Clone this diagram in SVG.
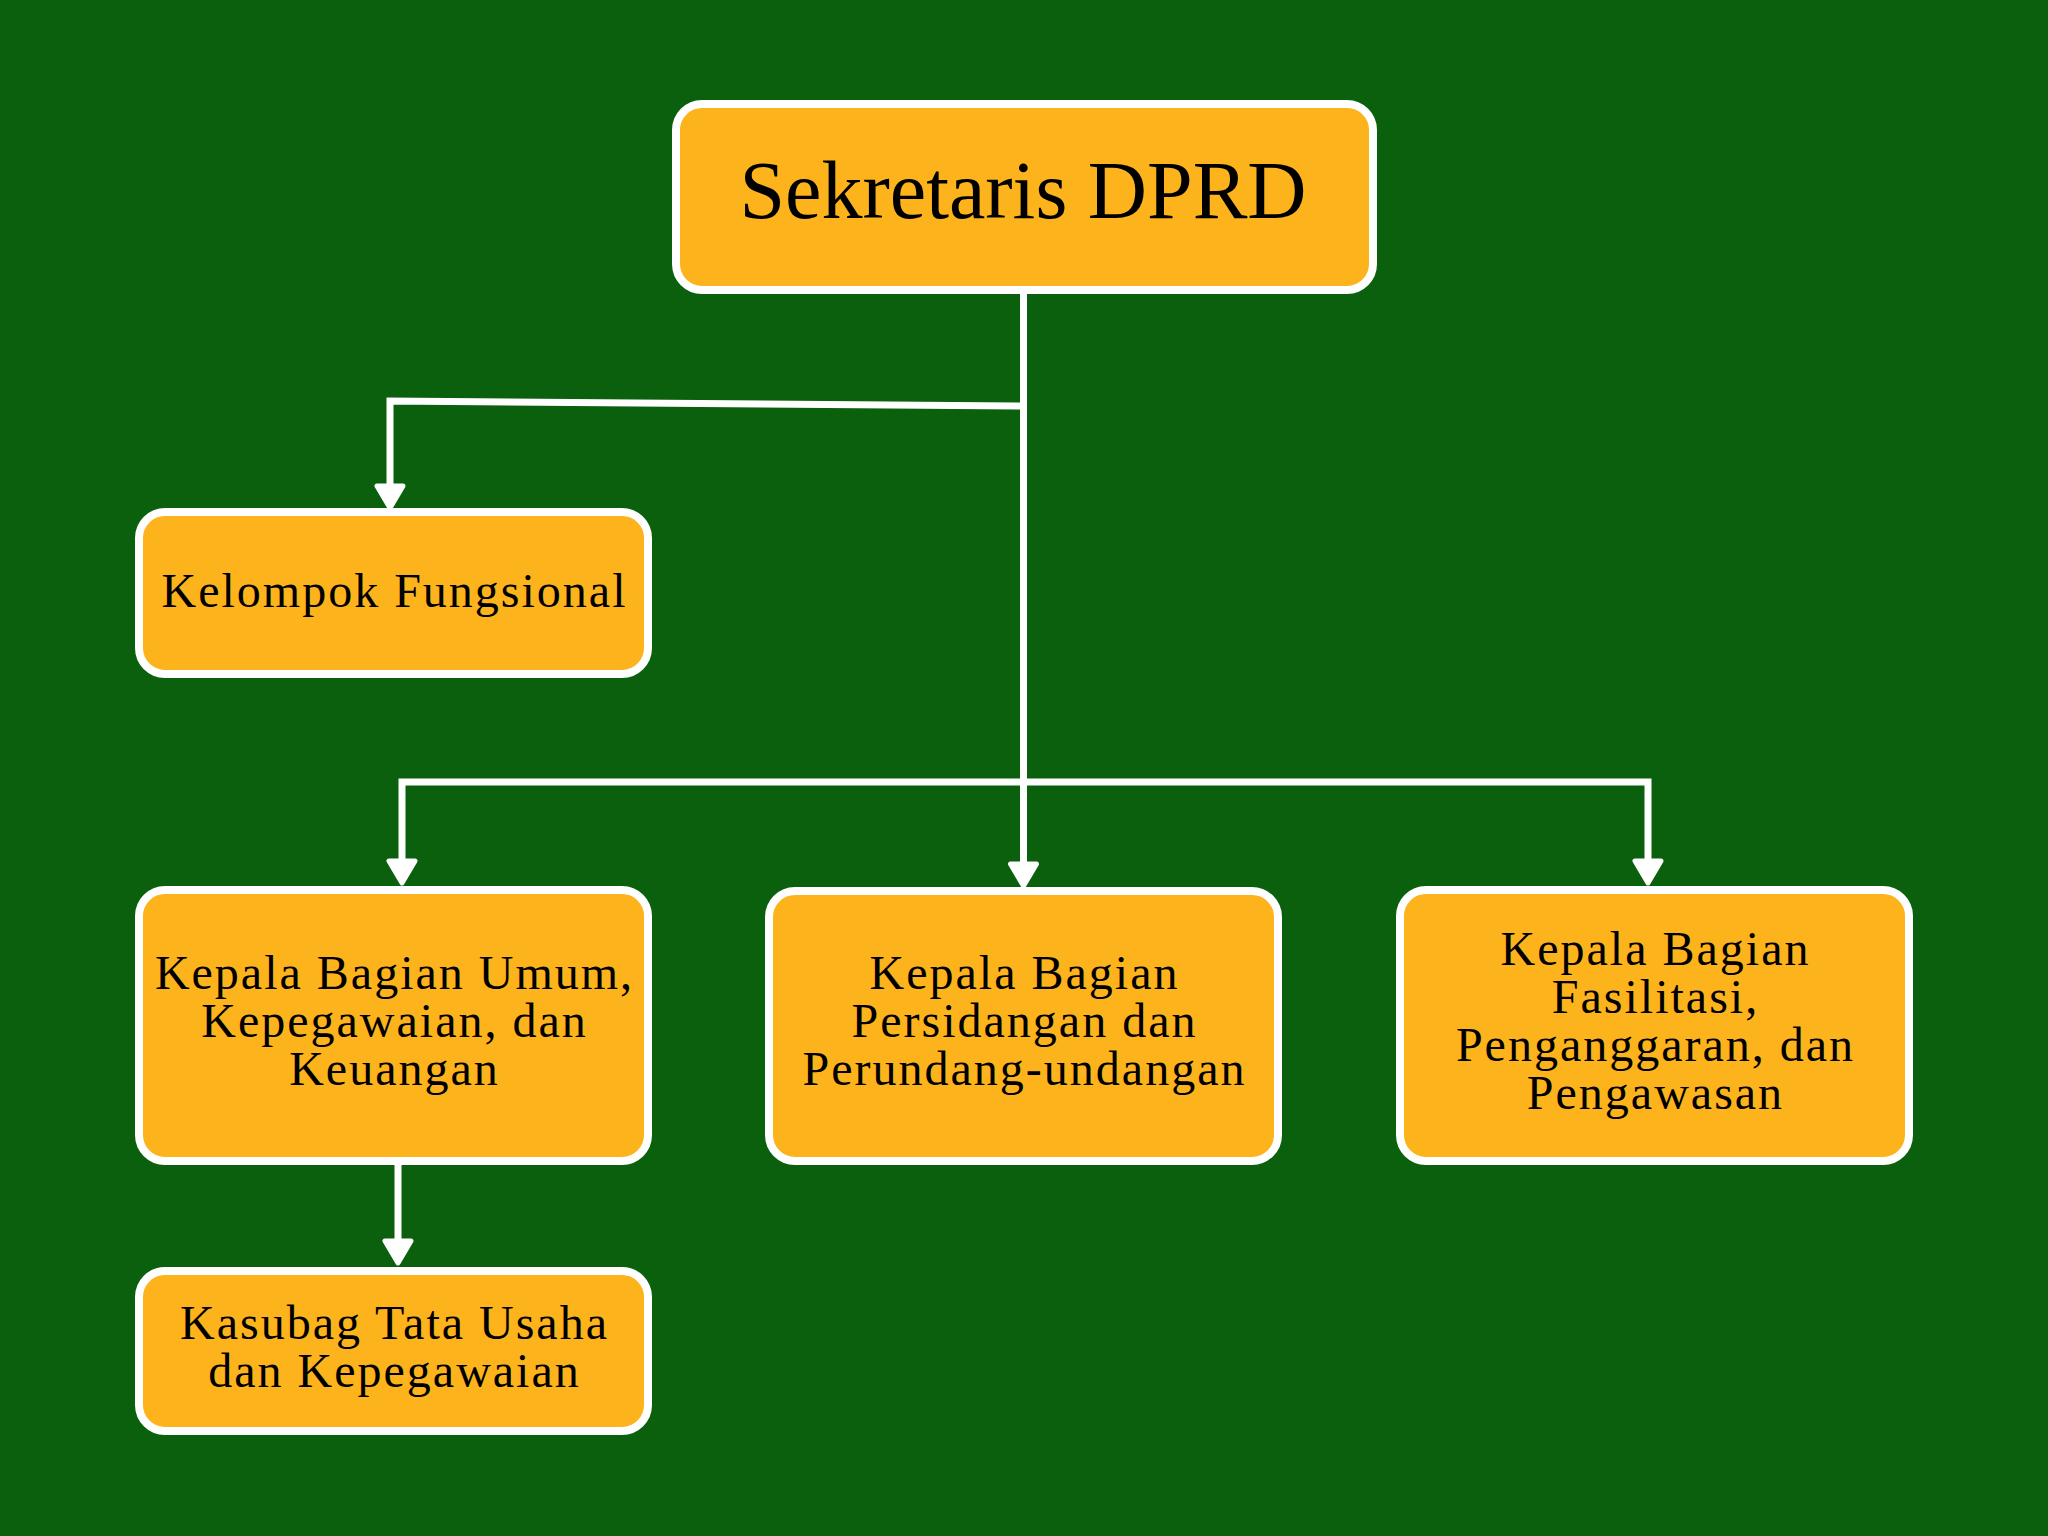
<svg xmlns="http://www.w3.org/2000/svg" width="2048" height="1536" viewBox="0 0 2048 1536">
<style>
.box{fill:#FDB31B;stroke:#FFFFFF;stroke-width:8}
.lbl{font-family:"Liberation Serif","Times New Roman",serif;font-size:48px;letter-spacing:2px;fill:#000000;text-anchor:middle}
.title{font-size:82px;letter-spacing:0}
.conn{fill:none;stroke:#FFFFFF;stroke-width:7;stroke-linejoin:miter}
</style>
<defs>
<marker id="arr" viewBox="-5 -20 35 40" refX="12" refY="0" markerWidth="35" markerHeight="40" markerUnits="userSpaceOnUse" orient="auto">
<path d="M0,-13 L22,0 L0,13 Z" fill="#FFFFFF" stroke="#FFFFFF" stroke-width="5" stroke-linejoin="round"/>
</marker>
</defs>
<rect x="0" y="0" width="2048" height="1536" fill="#0A600C"/>
<g id="connectors">
<path class="conn" d="M1023.5,406 L390,401 L390,498" marker-end="url(#arr)"/>
<path class="conn" d="M1023.5,294 L1023.5,876" marker-end="url(#arr)"/>
<path class="conn" d="M1023.5,782 L402,782 L402,873" marker-end="url(#arr)"/>
<path class="conn" d="M1023.5,782 L1648,782 L1648,873" marker-end="url(#arr)"/>
<path class="conn" d="M398,1165 L398,1253" marker-end="url(#arr)"/>
</g>
<g id="sekretaris">
<rect class="box" x="676" y="104" width="697" height="186" rx="26"/>
<text class="lbl title" x="1023" y="218">Sekretaris DPRD</text>
</g>
<g id="kelompok">
<rect class="box" x="139" y="512" width="509" height="162" rx="26"/>
<text class="lbl" x="394.5" y="607">Kelompok Fungsional</text>
</g>
<g id="umum">
<rect class="box" x="139" y="890" width="509" height="271" rx="26"/>
<text class="lbl" x="394.5" y="989">Kepala Bagian Umum,</text>
<text class="lbl" x="394.5" y="1037">Kepegawaian, dan</text>
<text class="lbl" x="394.5" y="1085">Keuangan</text>
</g>
<g id="persidangan">
<rect class="box" x="769" y="891" width="509" height="270" rx="26"/>
<text class="lbl" x="1024.5" y="989">Kepala Bagian</text>
<text class="lbl" x="1024.5" y="1037">Persidangan dan</text>
<text class="lbl" x="1024.5" y="1085">Perundang-undangan</text>
</g>
<g id="fasilitasi">
<rect class="box" x="1400" y="890" width="509" height="271" rx="26"/>
<text class="lbl" x="1655.5" y="965">Kepala Bagian</text>
<text class="lbl" x="1655.5" y="1013">Fasilitasi,</text>
<text class="lbl" x="1655.5" y="1061">Penganggaran, dan</text>
<text class="lbl" x="1655.5" y="1109">Pengawasan</text>
</g>
<g id="kasubag">
<rect class="box" x="139" y="1271" width="509" height="160" rx="26"/>
<text class="lbl" x="394.5" y="1339">Kasubag Tata Usaha</text>
<text class="lbl" x="394.5" y="1387">dan Kepegawaian</text>
</g>
</svg>
